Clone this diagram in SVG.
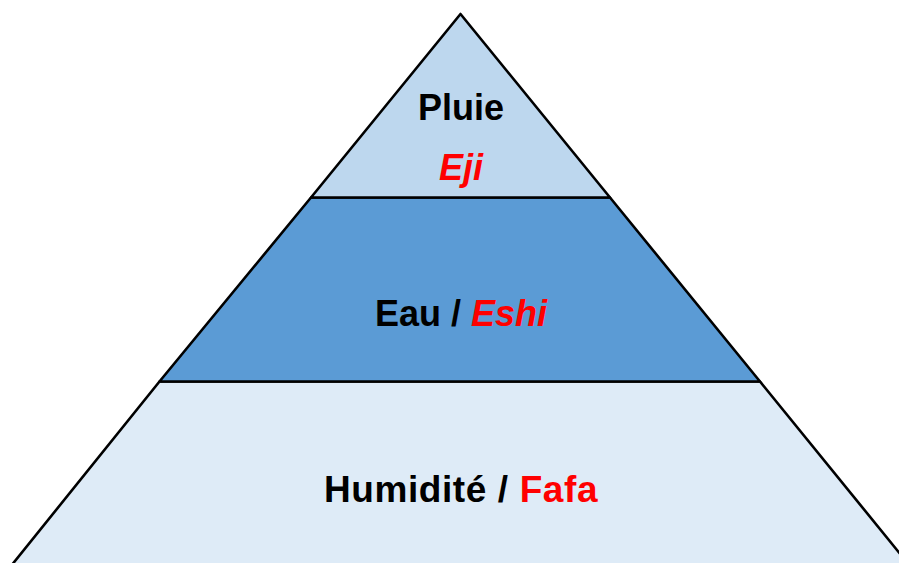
<svg xmlns="http://www.w3.org/2000/svg" width="899" height="563" viewBox="0 0 899 563">
<style>
.band{stroke:#000;stroke-width:2.6;stroke-linejoin:round}
.t{font-family:"Liberation Sans",Arial,sans-serif;font-weight:bold;font-size:36px;fill:#000;text-anchor:middle}
.r{fill:#FF0000}
.i{font-style:italic}
</style>
<rect width="899" height="563" fill="#fff"/>
<g id="bottom">
<polygon class="band" points="159.5,381.5 760,381.5 910,566 11,566" fill="#DEEBF7"/>
<text class="t" x="461" y="502" style="font-size:37px;letter-spacing:0.6px">Humidité / <tspan class="r">Fafa</tspan></text>
</g>
<g id="middle">
<polygon class="band" points="311,197.5 610,197.5 760,381.5 159.5,381.5" fill="#5B9BD5"/>
<text class="t" x="461" y="326">Eau / <tspan class="r i">Eshi</tspan></text>
</g>
<g id="top">
<polygon class="band" points="460.5,14 610,197.5 311,197.5" fill="#BDD7EE"/>
<text class="t" x="461" y="120">Pluie</text>
<text class="t r i" x="461" y="180">Eji</text>
</g>
</svg>
